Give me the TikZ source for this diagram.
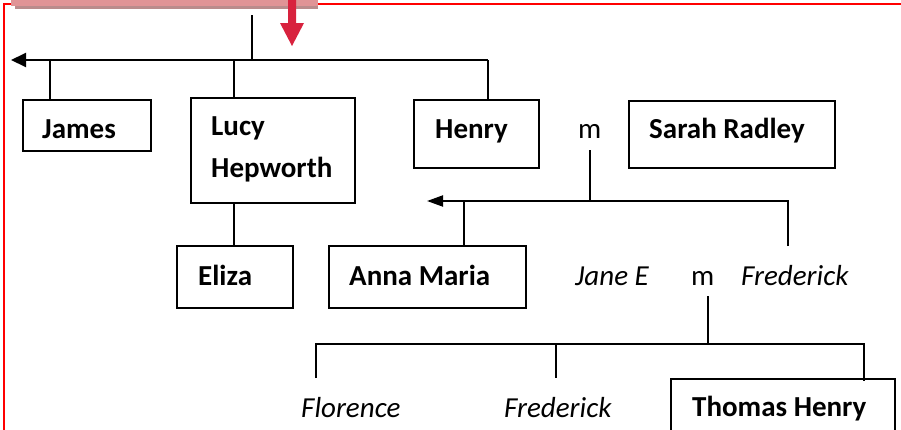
\documentclass[tikz,border=0pt]{standalone}
\usepackage{fontspec}
\setmainfont{Carlito}
\usetikzlibrary{arrows.meta}
\definecolor{pinkbar}{RGB}{224,148,150}
\definecolor{pinkshadow}{RGB}{186,140,140}
\definecolor{redarrow}{RGB}{216,34,62}
\definecolor{borderred}{RGB}{255,0,0}
\tikzset{
  box/.style={draw=black, line width=2pt, anchor=north west, inner sep=0pt, fill=white},
  lbl/.style={anchor=base west, inner sep=0pt, font=\fontsize{29}{34}\selectfont\bfseries},
  ital/.style={anchor=base west, inner sep=0pt, font=\fontsize{29}{34}\selectfont\itshape},
  plain/.style={anchor=base west, inner sep=0pt, font=\fontsize{29}{34}\selectfont},
  link/.style={draw=black, line width=2pt},
  bigtip/.style={-{Triangle[length=15pt,width=14pt]}},
  smalltip/.style={-{Triangle[length=16pt,width=11pt]}}
}
\begin{document}
\begin{tikzpicture}[x=1pt,y=-1pt]
\useasboundingbox (0,0) rectangle (901,429);
\clip (0,0) rectangle (901,429);
% red border
\draw[borderred, line width=2.2pt] (4,440) -- (4,4) -- (905,4);
% pink bar
\fill[pinkshadow] (15,4) rectangle (318,9);
\fill[pinkbar] (11,-2) rectangle (318,5.5);
% red arrow
\fill[redarrow] (288,-2) -- (296,-2) -- (296,23) -- (304,23) -- (292,46) -- (280,23) -- (288,23) -- cycle;

% boxes
\node[box, minimum width=128pt, minimum height=51pt] (james) at (22,99) {};
\node[box, minimum width=164pt, minimum height=105pt] (lucy) at (190,97) {};
\node[box, minimum width=125pt, minimum height=68pt] (henry) at (413,99) {};
\node[box, minimum width=206pt, minimum height=67pt] (sarah) at (628,100) {};
\node[box, minimum width=116pt, minimum height=62pt] (eliza) at (176,245) {};
\node[box, minimum width=197pt, minimum height=62pt] (anna) at (328,245) {};
\node[box, minimum width=224pt, minimum height=70pt] (thomas) at (670,378) {};

% texts
\node[lbl] (tjames) at (42,138) {James};
\node[lbl] (tlucy1) at (211,135) {Lucy};
\node[lbl] (tlucy2) at (211,177) {Hepworth};
\node[lbl] (thenry) at (435,138) {Henry};
\node[plain] (m1) at (578,138) {m};
\node[lbl] (tsarah) at (649,138) {Sarah Radley};
\node[lbl] (teliza) at (198,285) {Eliza};
\node[lbl] (tanna) at (349,285) {Anna Maria};
\node[ital] (jane) at (575,285) {Jane E};
\node[plain] (m2) at (691,285) {m};
\node[ital] (fred1) at (741,285) {Frederick};
\node[ital] (flor) at (301,417) {Florence};
\node[ital] (fred2) at (504,417) {Frederick};
\node[lbl] (tthomas) at (692,416) {Thomas Henry};

% coordinates
\coordinate (top) at (252,15);
\coordinate (bar1L) at (11,60);
\coordinate (bar1R) at (488,60);
\coordinate (jd) at (50,60);
\coordinate (ld) at (234,60);
\coordinate (m1b) at (590,150);
\coordinate (bar2L) at (427,201);
\coordinate (bar2R) at (788,201);
\coordinate (fred1top) at (788,246);
\coordinate (ad) at (464,201);
\coordinate (m2b) at (708,296);
\coordinate (bar3L) at (316,344);
\coordinate (bar3R) at (864,344);
\coordinate (florTop) at (316,378);
\coordinate (fredd) at (556,344);
\coordinate (fred2top) at (556,378);
\coordinate (thomasd) at (864,381);

% connectors generation 1
\draw[link] (top) -- (top |- bar1L);
\draw[link, bigtip] (bar1R) -- (bar1L);
\draw[link] (bar1R) -- (bar1R |- henry.north);
\draw[link] (jd) -- (jd |- james.north);
\draw[link] (ld) -- (ld |- lucy.north);
\draw[link] (lucy.south -| ld) -- (ld |- eliza.north);

% generation 2
\draw[link] (m1b) -- (m1b |- bar2L);
\draw[link, smalltip] (fred1top) -- (bar2R) -- (bar2L);
\draw[link] (ad) -- (ad |- anna.north);

% generation 3
\draw[link] (m2b) -- (m2b |- bar3L);
\draw[link] (florTop) -- (bar3L) -- (bar3R) -- (thomasd);
\draw[link] (fredd) -- (fred2top);
\end{tikzpicture}
\end{document}
